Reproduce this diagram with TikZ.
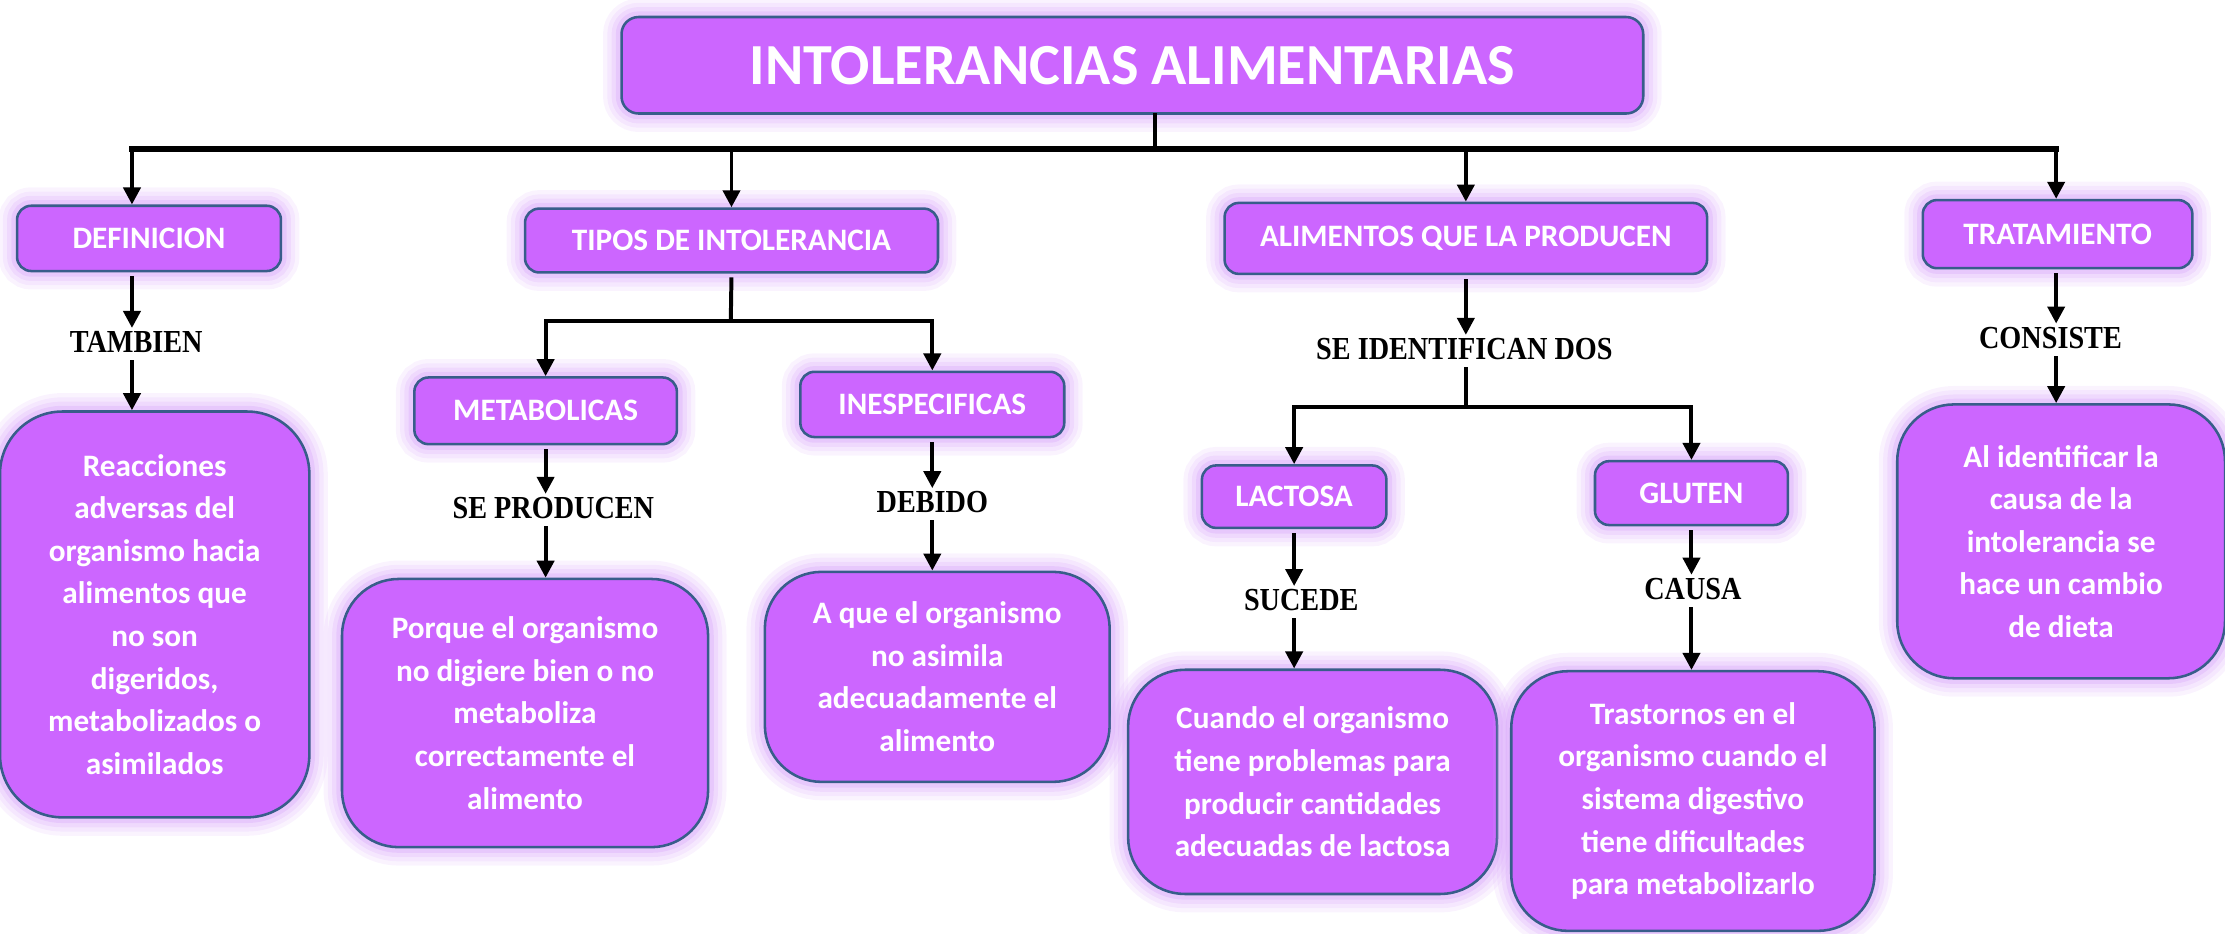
\documentclass[tikz,border=0pt]{standalone}
\usepackage{fontspec}
\setmainfont{Carlito}
\newfontfamily\linkfont[FakeStretch=0.88]{Liberation Serif}
\usetikzlibrary{calc,positioning,arrows.meta}

\definecolor{boxfill}{RGB}{204,102,255}
\definecolor{boxline}{RGB}{56,93,138}
\definecolor{boxglow}{RGB}{214,160,250}

\begin{document}
\begin{tikzpicture}
  [
    x=0.5pt, y=-0.5pt,
    glow/.style={
      preaction={draw=boxglow, fill=none, line width=13pt, draw opacity=0.12},
      preaction={draw=boxglow, fill=none, line width=10pt, draw opacity=0.15},
      preaction={draw=boxglow, fill=none, line width=7pt, draw opacity=0.2},
      preaction={draw=boxglow, fill=none, line width=4pt, draw opacity=0.3}
    },
    topic/.style={
      glow,
      draw=boxline, line width=0.9pt,
      fill=boxfill, text=white,
      rounded corners=5pt, inner sep=0pt,
      font=\bfseries\fontsize{11}{14}\selectfont
    },
    maintitle/.style={
      topic,
      rounded corners=6pt,
      font=\bfseries\fontsize{20.5}{24}\selectfont
    },
    explain/.style={
      topic,
      rounded corners=20pt, align=center,
      font=\bfseries\fontsize{11}{15}\selectfont
    },
    linkword/.style={
      inner sep=1pt,
      font=\linkfont\bfseries\fontsize{11.3}{13}\selectfont
    },
    line/.style={
      line width=1.4pt, line cap=rect
    },
    conn/.style={
      line, -{Triangle[width=6pt,length=6pt]}
    }
  ]
\useasboundingbox (0,0) rectangle (1568,658);

% Title
\node (title) [maintitle, minimum width=360pt, minimum height=34pt] at (798,46) {INTOLERANCIAS ALIMENTARIAS};
\coordinate (bus)  at (814,105);
\coordinate (busL) at (93,105);
\coordinate (busR) at (1449,105);
\draw [line] (title.south -| bus) -- (bus);
\draw [line, line width=1.8pt] (busL) -- (busR);

% Definicion
\node (defi) [topic, minimum width=93pt, minimum height=23pt] at (105,168) {DEFINICION};
\node (tamb) [linkword] at (96,241) {TAMBIEN};
\node (reac) [explain, rounded corners=22pt, minimum width=109pt, minimum height=143pt] at (109,433)
  {Reacciones\\adversas del\\organismo hacia\\alimentos que\\no son\\digeridos,\\metabolizados o\\asimilados};
\draw [conn] (busL) -- (busL |- defi.north);
\draw [conn, shorten <=2pt] (busL |- defi.south) -- (busL |- tamb.north);
\draw [conn, shorten <=2pt] (busL |- tamb.south) -- (busL |- reac.north);

% Tipos de intolerancia
\node (tipos) [topic, minimum width=145.5pt, minimum height=22.5pt] at (515.5,169.5) {TIPOS DE INTOLERANCIA};
\draw [conn] (tipos.north |- busL) -- (tipos.north);

\node (metab) [topic, minimum width=92.5pt, minimum height=23.5pt] at (384.5,289.5) {METABOLICAS};
\node (inesp) [topic, minimum width=93pt, minimum height=23pt] at (657,285) {INESPECIFICAS};
\coordinate (tbus) at (515,226);
\draw [line, shorten <=2pt] (tipos.south) -- (tbus);
\draw [line] (tbus -| metab.north) -- (tbus -| inesp.north);
\draw [conn] (tbus -| metab.north) -- (metab.north);
\draw [conn] (tbus -| inesp.north) -- (inesp.north);

\node (seprod) [linkword] at (390,358) {SE PRODUCEN};
\node (porque) [explain, minimum width=129pt, minimum height=94.5pt] at (370,502.5)
  {Porque el organismo\\no digiere bien o no\\metaboliza\\correctamente el\\alimento};
\draw [conn, shorten <=2pt] (metab.south) -- (metab.south |- seprod.north);
\draw [conn, shorten <=2pt] (metab.south |- seprod.south) -- (metab.south |- porque.north);

\node (debido) [linkword] at (657,354) {DEBIDO};
\node (aque) [explain, minimum width=121.5pt, minimum height=74pt] at (660.5,477)
  {A que el organismo\\no asimila\\adecuadamente el\\alimento};
\draw [conn, shorten <=2pt] (inesp.south) -- (inesp.south |- debido.north);
\draw [conn, shorten <=2pt] (inesp.south |- debido.south) -- (inesp.south |- aque.north);

% Alimentos que la producen
\node (alim) [topic, minimum width=170pt, minimum height=25pt] at (1033,168) {ALIMENTOS QUE LA PRODUCEN};
\draw [conn] (alim.north |- busL) -- (alim.north);
\node (seid) [linkword] at (1032,246) {SE IDENTIFICAN DOS};
\draw [conn, shorten <=2pt] (alim.south) -- (alim.south |- seid.north);

\node (lact) [topic, minimum width=65pt, minimum height=22pt] at (912,350) {LACTOSA};
\node (glut) [topic, minimum width=68pt, minimum height=22.5pt] at (1192,347.5) {GLUTEN};
\coordinate (abus) at (1036,287);
\draw [line, shorten <=2pt] (alim.south |- seid.south) -- (alim.south |- abus);
\draw [line] (abus -| lact.north) -- (abus -| glut.north);
\draw [conn] (abus -| lact.north) -- (lact.north);
\draw [conn] (abus -| glut.north) -- (glut.north);

\node (sucede) [linkword] at (917,423) {SUCEDE};
\node (cuando) [explain, minimum width=130pt, minimum height=79pt] at (925,551)
  {Cuando el organismo\\tiene problemas para\\producir cantidades\\adecuadas de lactosa};
\draw [conn, shorten <=2pt] (lact.south) -- (lact.south |- sucede.north);
\draw [conn, shorten <=2pt] (lact.south |- sucede.south) -- (lact.south |- cuando.north);

\node (causa) [linkword] at (1193,415) {CAUSA};
\node (trast) [explain, minimum width=128pt, minimum height=91.5pt] at (1193,564.5)
  {Trastornos en el\\organismo cuando el\\sistema digestivo\\tiene dificultades\\para metabolizarlo};
\draw [conn, shorten <=2pt] (glut.south) -- (glut.south |- causa.north);
\draw [conn, shorten <=2pt] (glut.south |- causa.south) -- (glut.south |- trast.north);

% Tratamiento
\node (trat) [topic, minimum width=95pt, minimum height=24pt] at (1450,165) {TRATAMIENTO};
\draw [conn] (busR) -- (busR |- trat.north);
\node (cons) [linkword] at (1445,238) {CONSISTE};
\node (alid) [explain, minimum width=115.5pt, minimum height=96.5pt] at (1452.5,381.5)
  {Al identificar la\\causa de la\\intolerancia se\\hace un cambio\\de dieta};
\draw [conn, shorten <=2pt] (busR |- trat.south) -- (busR |- cons.north);
\draw [conn, shorten <=2pt] (busR |- cons.south) -- (busR |- alid.north);

\end{tikzpicture}
\end{document}
